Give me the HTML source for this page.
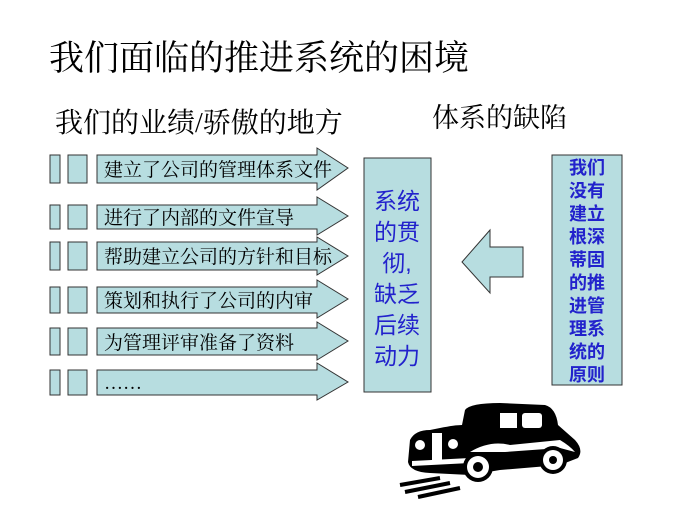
<!DOCTYPE html>
<html><head><meta charset="utf-8"><style>
html,body{margin:0;padding:0;background:#fff;}
body{width:700px;height:525px;overflow:hidden;position:relative;font-family:"Liberation Serif","Noto Serif CJK SC",serif;}
.t{position:absolute;white-space:nowrap;color:#000;}
</style></head><body>
<div class="t" style="left:49px;top:31px;font-size:35px;">我们面临的推进系统的困境</div>
<div class="t" style="left:55px;top:101px;font-size:28px;">我们的业绩/骄傲的地方</div>
<div class="t" style="left:432px;top:96px;font-size:27px;">体系的缺陷</div>
<svg width="700" height="525" style="position:absolute;left:0;top:0" xmlns="http://www.w3.org/2000/svg">
<g fill="#b7dde0" stroke="#333" stroke-width="1">
<rect x="50" y="155" width="10" height="28"/><rect x="68" y="155" width="19" height="28"/>
<polygon points="97,155 317,155 317,148 348,168 317,190 317,183 97,183"/>
<rect x="50" y="205" width="10" height="24"/><rect x="68" y="205" width="19" height="24"/>
<polygon points="97,205 317,205 317,197 348,216 317,235 317,229 97,229"/>
<rect x="50" y="242" width="10" height="28"/><rect x="68" y="242" width="19" height="28"/>
<polygon points="97,242 317,242 317,237 348,256 317,275 317,270 97,270"/>
<rect x="50" y="287" width="10" height="26"/><rect x="68" y="287" width="19" height="26"/>
<polygon points="97,287 317,287 317,280 348,299 317,318 317,313 97,313"/>
<rect x="50" y="328" width="10" height="27"/><rect x="68" y="328" width="19" height="27"/>
<polygon points="97,328 317,328 317,322 348,341 317,360 317,355 97,355"/>
<rect x="50" y="370" width="10" height="25"/><rect x="68" y="370" width="19" height="25"/>
<polygon points="97,370 317,370 317,363 348,382 317,400 317,395 97,395"/>
<rect x="364" y="158" width="67" height="234"/>
<rect x="552" y="155" width="70" height="230"/>
<polygon points="462,262 490,230 490,247 523,247 523,277 490,277 490,293"/>
</g>
<g font-size="19" fill="#000">
<text x="104" y="176">建立了公司的管理体系文件</text>
<text x="104" y="224">进行了内部的文件宣导</text>
<text x="104" y="263">帮助建立公司的方针和目标</text>
<text x="104" y="307">策划和执行了公司的内审</text>
<text x="104" y="349">为管理评审准备了资料</text>
<text x="104" y="389">……</text>
</g>
<g font-size="23" fill="#2222cc" text-anchor="middle" font-family="'Liberation Sans','Noto Sans CJK SC',sans-serif">
<text x="397" y="209">系统</text><text x="397" y="240">的贯</text><text x="397" y="271">彻,</text>
<text x="397" y="302">缺乏</text><text x="397" y="333">后续</text><text x="397" y="364">动力</text>
</g>
<g font-size="18" fill="#2222cc" text-anchor="middle" font-weight="bold" font-family="'Liberation Sans','Noto Sans CJK SC',sans-serif">
<text x="587" y="174">我们</text><text x="587" y="197">没有</text><text x="587" y="220">建立</text>
<text x="587" y="243">根深</text><text x="587" y="266">蒂固</text><text x="587" y="289">的推</text>
<text x="587" y="312">进管</text><text x="587" y="335">理系</text><text x="587" y="358">统的</text>
<text x="587" y="381">原则</text>
</g>
<g fill="#000">
<path d="M465,410 Q470,403 500,403 L545,405 Q556,408 558,425 L575,440 Q584,450 578,458 L560,465 L500,470 L470,475 L430,473 Q410,472 408,462 L410,440 Q415,430 430,430 L440,428 Q455,425 462,425 Z"/>
<path d="M400,485 L440,478 M405,492 L450,483 M418,497 L460,488" stroke="#000" stroke-width="4"/>
</g>
<g fill="#fff">
<rect x="500" y="413" width="17" height="15"/><rect x="522" y="413" width="20" height="15" rx="3"/>
<rect x="432" y="433" width="10" height="28"/>
<circle cx="420" cy="445" r="5"/><circle cx="453" cy="444" r="5"/>
<path d="M412,461 L470,458 L470,463 L412,466Z"/>
<path d="M470,452 Q490,440 510,445 L560,440 Q570,446 575,452 L560,448 L505,452 Z"/>
</g>
<circle cx="478" cy="467" r="15" fill="#000"/><circle cx="478" cy="467" r="11" fill="#fff"/><circle cx="478" cy="467" r="5" fill="#000"/>
<circle cx="553" cy="460" r="14" fill="#000"/><circle cx="553" cy="460" r="10" fill="#fff"/><circle cx="553" cy="460" r="4" fill="#000"/>
</svg>
</body></html>
